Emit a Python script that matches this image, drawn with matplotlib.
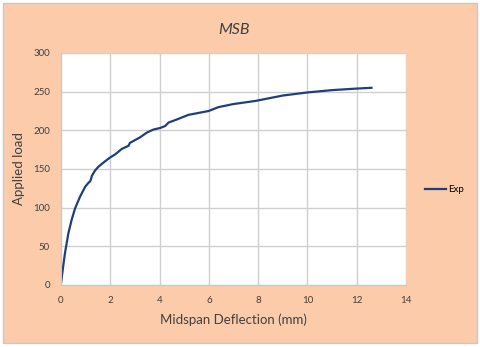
import matplotlib
matplotlib.use("Agg")
import matplotlib.pyplot as plt
from matplotlib.patches import Rectangle

plt.rcParams['font.family'] = ['Lato', 'DejaVu Sans']

# Midspan deflection (mm) vs applied load
deflection = [0.0, 0.08, 0.16, 0.30, 0.43, 0.57, 0.77, 0.98, 1.11, 1.18, 1.22, 1.25,
              1.38, 1.52, 1.79, 2.0, 2.2, 2.47, 2.74, 2.80, 2.87, 3.21, 3.48, 3.75,
              4.02, 4.23, 4.36, 4.70, 5.17, 5.99, 6.39, 7.0, 7.89, 9.0, 10.0, 11.0,
              12.0, 12.6]
load = [2, 22, 41, 67, 84, 99, 114, 127, 132, 134, 137, 141,
        148, 153, 160, 165, 169, 176, 180, 184, 185, 191, 197, 201,
        203, 205.6, 210, 214, 220, 225, 230, 234, 238, 245, 249, 252,
        254, 255]

fig = plt.figure(figsize=(4.8, 3.47), dpi=100, facecolor='white')
bg = Rectangle((3/480, 4/347), 474/480, 340/347, transform=fig.transFigure,
               facecolor='#FBCBAA', edgecolor='#C8C8C8', linewidth=1, zorder=-10)
fig.patches.append(bg)

ax = fig.add_axes([61/480, 62/347, 345/480, 232/347])
ax.set_facecolor('white')
ax.plot(deflection, load, color='#1F3F7A', linewidth=1.6, label='Exp')

ax.set_xlim(0, 14)
ax.set_ylim(0, 300)
ax.set_xticks(range(0, 15, 2))
ax.set_yticks(range(0, 301, 50))
ax.grid(True, color='#D0D0D0', linewidth=1)
ax.set_axisbelow(True)
for s in ['top', 'right']:
    ax.spines[s].set_visible(False)
for s in ['left', 'bottom']:
    ax.spines[s].set_color('#C8C8C8')
ax.tick_params(length=0, labelsize=7, colors='#404040', pad=8)

ax.set_xlabel('Midspan Deflection (mm)', fontsize=9.5, color='#404040', labelpad=6)
ax.set_ylabel('Applied load', fontsize=9.5, color='#404040', labelpad=6)
ax.set_title('MSB', fontsize=11.5, style='italic', color='#404040', pad=14)

ax.legend(loc='center left', bbox_to_anchor=(1.03, 0.41), frameon=False,
          fontsize=7, handlelength=2.2, handletextpad=0.2)

fig.savefig('out.png', dpi=100, facecolor=fig.get_facecolor())
